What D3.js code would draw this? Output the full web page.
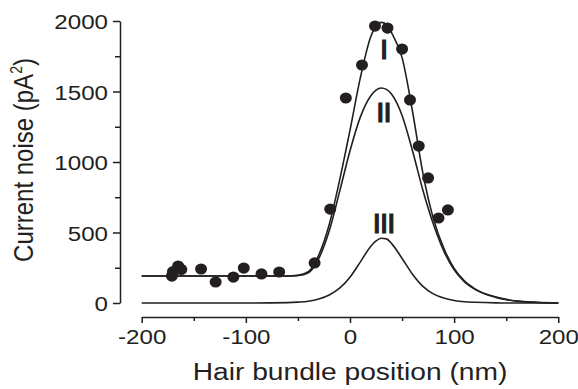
<!DOCTYPE html>
<html>
<head>
<meta charset="utf-8">
<script src="https://cdn.jsdelivr.net/npm/d3@7"></script>
<style>
  html, body { margin: 0; padding: 0; background: #fff; }
  svg { display: block; }
  text { font-family: "Liberation Sans", Arial, Helvetica, sans-serif; fill: #231f20; }
</style>
</head>
<body>
<svg id="chart" width="578" height="389"></svg>
<script>
// measured points (hair bundle position in nm, noise in pA^2)
const dotX = [-171, -170, -165, -162, -143, -129, -112, -102, -85, -68, -34, -19, -4, 11.5, 24, 36, 50, 57.6, 66, 75, 85, 94];
const dotY = [191, 222, 262, 238, 241, 149, 184, 248, 206, 220, 284, 666, 1454, 1688, 1964, 1950, 1801, 1440, 1113, 887, 603, 660];

// fitted curves at these positions
const curveX = [-200, -150, -100, -60, -50, -40, -30, -20, -10, 0, 10, 20, 25, 30, 35, 40, 50, 60, 70, 80, 90, 100, 110, 120, 140, 160, 180, 200];
const curveI = [191, 191, 191, 192, 196, 222, 340, 555, 870, 1225, 1600, 1890, 1965, 1990, 1975, 1915, 1740, 1360, 920, 600, 390, 245, 155, 100, 42, 14, 5, 1];
const curveII = [191, 191, 191, 192, 195, 215, 315, 510, 790, 1080, 1320, 1470, 1510, 1525, 1515, 1480, 1330, 1080, 800, 560, 370, 235, 150, 97, 40, 13, 4, 1];
const curveIII = [0, 0, 0, 3, 6, 12, 28, 57, 105, 183, 292, 403, 440, 459, 455, 421, 316, 204, 118, 65, 35, 18, 9, 5, 1, 0, 0, 0];

const curveNames = ['I', 'II', 'III'];
const xTicks = [-200, -100, 0, 100, 200];
const yTicks = [0, 500, 1000, 1500, 2000];

const ink = '#231f20';
const stretch = 1.15; // the figure's lettering is a bit wide

const svg = d3.select('#chart');

const x = d3.scaleLinear().domain([-200, 200]).range([141.7, 558.3]);
const y = d3.scaleLinear().domain([0, 2000]).range([303, 21]);

const plain = (d) => String(d);

// y axis
const yAxis = svg.append('g')
  .attr('transform', 'translate(120,0)')
  .call(d3.axisLeft(y).tickValues(yTicks).tickFormat(plain).tickSize(7).tickPadding(5).tickSizeOuter(0));
yAxis.append('g')
  .call(d3.axisLeft(y).tickValues(d3.range(250, 2000, 500)).tickSize(5).tickFormat('').tickSizeOuter(0))
  .select('.domain').remove();

// x axis
const xAxis = svg.append('g')
  .attr('transform', 'translate(0,317)')
  .call(d3.axisBottom(x).tickValues(xTicks).tickFormat(plain).tickSize(6).tickPadding(6).tickSizeOuter(0));
xAxis.append('g')
  .call(d3.axisBottom(x).tickValues(d3.range(-150, 200, 100)).tickSize(4).tickFormat('').tickSizeOuter(0))
  .select('.domain').remove();

svg.selectAll('.domain, .tick line')
  .attr('stroke', ink)
  .attr('stroke-width', 1.5);

yAxis.selectAll('.tick text')
  .attr('font-size', 21)
  .attr('x', -12 / stretch)
  .attr('dy', '0.36em')
  .attr('transform', `scale(${stretch},1)`);

xAxis.selectAll('.tick text')
  .attr('font-size', 21)
  .attr('dy', '0.72em')
  .attr('transform', `scale(${stretch},1)`);

svg.selectAll('.tick text')
  .attr('fill', ink)
  .style('font-family', '"Liberation Sans", Arial, sans-serif');

// axis titles
svg.append('text')
  .attr('transform', `translate(350,380) scale(${stretch},1)`)
  .attr('text-anchor', 'middle')
  .attr('font-size', 24.5)
  .text('Hair bundle position (nm)');

const yTitle = svg.append('text')
  .attr('transform', `translate(33,160) scale(${stretch},1) rotate(-90)`)
  .attr('text-anchor', 'middle')
  .attr('font-size', 24);
yTitle.append('tspan').text('Current noise (pA');
yTitle.append('tspan').attr('font-size', 14).attr('dy', -10).text('2');
yTitle.append('tspan').attr('dy', 10).text(')');

// curves
const line = d3.line()
  .x((d) => x(d[0]))
  .y((d) => y(d[1]))
  .curve(d3.curveMonotoneX);

[curveI, curveII, curveIII].forEach((values) => {
  svg.append('path')
    .datum(curveX.map((cx, i) => [cx, values[i]]))
    .attr('fill', 'none')
    .attr('stroke', ink)
    .attr('stroke-width', 1.6)
    .attr('d', line);
});

// curve labels, placed just under each peak
const peaks = [curveI, curveII, curveIII].map((values) => d3.max(values));
svg.selectAll('.curve-label')
  .data(curveNames)
  .enter()
  .append('text')
  .attr('class', 'curve-label')
  .attr('transform', (d, i) => `translate(${x(32)},${y(peaks[i]) + (i === 2 ? -5 : (i === 0 ? 37 : 34))}) scale(${stretch},1)`)
  .attr('text-anchor', 'middle')
  .attr('font-size', 27)
  .attr('letter-spacing', -1.2)
  .attr('stroke', ink)
  .attr('stroke-width', 1)
  .text((d) => d);

// data points
svg.selectAll('.dot')
  .data(dotX.map((dx, i) => [dx, dotY[i]]))
  .enter()
  .append('ellipse')
  .attr('class', 'dot')
  .attr('cx', (d) => x(d[0]))
  .attr('cy', (d) => y(d[1]))
  .attr('rx', 6)
  .attr('ry', 5.6)
  .attr('fill', ink);
</script>
</body>
</html>
